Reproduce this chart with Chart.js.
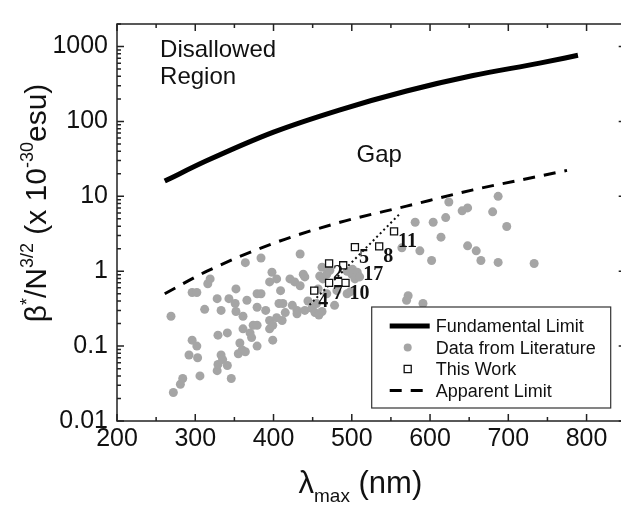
<!DOCTYPE html>
<html>
<head>
<meta charset="utf-8">
<script src="https://cdn.jsdelivr.net/npm/chart.js@4.4.1/dist/chart.umd.min.js"></script>
<style>
  html, body { margin: 0; padding: 0; background: #fff; overflow: hidden; }
  #wrap { width: 632px; height: 505px; }
</style>
</head>
<body>
<div id="wrap"><canvas id="nloChart" width="632" height="505"></canvas></div>
<script>
// Fundamental limit (solid) and apparent limit (dashed)
const fundX = [261, 315, 400, 485, 570, 655, 740, 789];
const fundY = [16, 30, 72, 143, 255, 410, 600, 764];
const apparentX = [261, 315, 400, 485, 570, 655, 740, 775];
const apparentY = [0.50, 1.0, 2.36, 4.5, 7.4, 12.2, 18.6, 22.2];

// dotted trend through "This Work"
const trendX = [446, 561];
const trendY = [0.355, 5.8];

// This Work (open squares) and their compound numbers
const workIds = ['4', '7', '10', '2', '17', '5', '8', '11'];
const workX = [452, 471, 492, 471, 489, 504, 535, 554];
const workY = [0.55, 0.70, 0.70, 1.27, 1.2, 2.1, 2.15, 3.4];

// Data from literature (grey dots)
const litX = [269, 272, 281, 284, 292, 296, 296, 302, 302, 303,
              306, 312, 316, 319, 328, 328, 329, 329, 333, 333,
              335, 341, 341, 343, 346, 351, 352, 352, 355, 357,
              360, 361, 361, 364, 364, 366, 370, 372, 374, 379,
              379, 379, 379, 384, 384, 390, 395, 395, 395, 398,
              399, 399, 404, 404, 407, 409, 411, 412, 415, 421,
              424, 427, 430, 430, 434, 434, 438, 440, 440, 444,
              449, 453, 455, 457, 458, 459, 462, 462, 463, 468,
              468, 472, 478, 481, 494, 494, 498, 500, 501, 504,
              507, 510, 564, 570, 572, 581, 587, 591, 602, 604,
              614, 620, 624, 641, 648, 648, 659, 665, 680, 687,
              687, 698, 733];
const litY = [0.25, 0.024, 0.031, 0.037, 0.076, 0.12, 0.52, 0.52, 0.10, 0.070,
              0.040, 0.31, 0.68, 0.79, 0.43, 0.047, 0.14, 0.057, 0.30, 0.076,
              0.066, 0.15, 0.055, 0.43, 0.037, 0.37, 0.58, 0.29, 0.079, 0.11,
              0.089, 0.17, 0.25, 1.3, 0.084, 0.41, 0.15, 0.13, 0.19, 0.50,
              0.33, 0.19, 0.10, 0.50, 1.5, 0.30, 0.72, 0.22, 0.17, 0.97,
              0.19, 0.12, 0.79, 0.24, 0.37, 0.55, 0.22, 0.37, 0.28, 0.79,
              0.35, 0.72, 0.30, 0.27, 1.7, 0.64, 0.91, 0.84, 0.30, 0.40,
              0.32, 0.28, 0.37, 0.58, 0.26, 0.86, 1.13, 0.29, 0.79, 0.91,
              0.50, 1.03, 0.35, 0.55, 1.0, 0.50, 0.53, 0.91, 1.06, 0.79,
              0.97, 0.84, 2.05, 0.41, 0.47, 4.5, 1.87, 0.37, 1.39, 4.5,
              2.85, 5.2, 8.4, 6.4, 7.0, 2.18, 1.87, 1.39, 6.2, 10,
              1.31, 3.95, 1.27];

// axis ranges / ticks, legend order
const xMin = 200, xMax = 850, xStep = 50;
const yMin = 0.01, yMax = 2000;
const legendOrder = ['Fundamental Limit', 'Data from Literature', 'This Work', 'Apparent Limit'];

const FONT = 'Liberation Sans, Arial, Helvetica, sans-serif';
const toPts = (xs, ys) => xs.map((x, i) => ({ x: x, y: ys[i] }));

function isDecade(v) {
  const l = Math.log10(v);
  return Math.abs(l - Math.round(l)) < 1e-6;
}

// text with super/subscripts; parts = [[text, 'n'|'sup'|'sub'], ...]
function richWidth(ctx, parts, size, small) {
  let w = 0;
  parts.forEach(p => {
    ctx.font = (p[1] === 'n' ? size : small) + 'px ' + FONT;
    w += ctx.measureText(p[0]).width;
  });
  return w;
}
function drawRich(ctx, parts, x, y, size, small) {
  parts.forEach(p => {
    ctx.font = (p[1] === 'n' ? size : small) + 'px ' + FONT;
    let dy = 0;
    if (p[1] === 'sup') dy = -size * 0.42;
    if (p[1] === 'sub') dy = size * 0.3;
    ctx.fillText(p[0], x, y + dy);
    x += ctx.measureText(p[0]).width;
  });
}

const framePlugin = {
  id: 'frame',
  afterDraw(chart) {
    const { ctx, chartArea: a, scales } = chart;
    const xs = scales.x, ys = scales.y;
    ctx.save();
    ctx.strokeStyle = '#222';
    ctx.lineWidth = 1.5;
    ctx.strokeRect(a.left, a.top, a.right - a.left, a.bottom - a.top);

    // x ticks, inward on bottom and top
    ctx.beginPath();
    for (let v = xMin; v <= xMax; v += xStep) {
      const px = xs.getPixelForValue(v);
      const len = v % 100 === 0 ? 7 : 4;
      ctx.moveTo(px, a.bottom); ctx.lineTo(px, a.bottom - len);
      ctx.moveTo(px, a.top); ctx.lineTo(px, a.top + len);
    }
    // y ticks (log minor), inward on left and right
    for (let e = -2; e <= 3; e++) {
      for (let m = 1; m <= 9; m++) {
        const v = m * Math.pow(10, e);
        if (v < yMin || v > yMax) continue;
        const py = ys.getPixelForValue(v);
        const len = m === 1 ? 7 : 4;
        ctx.moveTo(a.left, py); ctx.lineTo(a.left + len, py);
        ctx.moveTo(a.right, py); ctx.lineTo(a.right - len, py);
      }
    }
    ctx.stroke();

    // axis titles
    ctx.fillStyle = '#111';
    ctx.textBaseline = 'alphabetic';
    ctx.textAlign = 'left';
    const yParts = [['\u03b2', 'n'], ['*', 'sup'], ['/N', 'n'], ['3/2', 'sup'],
                    [' (x 10', 'n'], ['-30', 'sup'], ['esu)', 'n']];
    const yw = richWidth(ctx, yParts, 30, 18);
    ctx.save();
    ctx.translate(46, 203);
    ctx.rotate(-Math.PI / 2);
    drawRich(ctx, yParts, -yw / 2, 0, 30, 18);
    ctx.restore();

    const xParts = [['\u03bb', 'n'], ['max', 'sub'], [' (nm)', 'n']];
    const xw = richWidth(ctx, xParts, 31, 19);
    drawRich(ctx, xParts, (a.left + a.right) / 2 - 11 - xw / 2, 493, 31, 19);
    ctx.restore();
  }
};

// number labels next to the squares, region texts, legend
const notesPlugin = {
  id: 'notes',
  afterDatasetsDraw(chart) {
    const { ctx, chartArea: a, scales } = chart;
    const xs = scales.x, ys = scales.y;
    ctx.save();
    ctx.fillStyle = '#111';
    ctx.textAlign = 'left';
    ctx.textBaseline = 'alphabetic';
    ctx.font = 'bold 20px Liberation Serif, Times New Roman, serif';
    workIds.forEach((id, i) => {
      const px = xs.getPixelForValue(workX[i]);
      const py = ys.getPixelForValue(workY[i]);
      const dx = id === '17' ? 20 : 4;
      const dy = id === '17' ? 15 : 16;
      ctx.fillText(id, px + dx, py + dy);
    });

    ctx.font = '24px ' + FONT;
    ctx.fillText('Disallowed', xs.getPixelForValue(255), ys.getPixelForValue(720));
    ctx.fillText('Region', xs.getPixelForValue(255), ys.getPixelForValue(312));
    ctx.fillText('Gap', xs.getPixelForValue(506), ys.getPixelForValue(28.5));

    // legend box
    const bw = 239, bh = 101;
    const bx = a.right - 15 - bw, by = a.bottom - 13 - bh;
    ctx.fillStyle = '#fff';
    ctx.fillRect(bx, by, bw, bh);
    ctx.strokeStyle = '#333';
    ctx.lineWidth = 1.2;
    ctx.strokeRect(bx, by, bw, bh);

    legendOrder.forEach((name, i) => {
      const d = chart.data.datasets.find(ds => ds.label === name);
      const cy = by + 19 + i * 21.5;
      const sx = bx + 18;
      ctx.save();
      if (d.showLine) {
        ctx.strokeStyle = d.borderColor;
        ctx.lineWidth = d.borderWidth;
        ctx.setLineDash(d.borderDash || []);
        ctx.beginPath();
        ctx.moveTo(sx, cy); ctx.lineTo(sx + 40, cy);
        ctx.stroke();
      } else {
        ctx.fillStyle = d.backgroundColor;
        ctx.strokeStyle = d.borderColor;
        ctx.lineWidth = d.borderWidth;
        ctx.beginPath();
        if (d.pointStyle === 'rect') {
          const s = d.pointRadius * Math.SQRT1_2;
          ctx.rect(sx + 18 - s, cy - s, 2 * s, 2 * s);
          ctx.fill(); ctx.stroke();
        } else {
          ctx.arc(sx + 18, cy, d.pointRadius - 0.5, 0, Math.PI * 2);
          ctx.fill();
        }
      }
      ctx.restore();
      ctx.fillStyle = '#111';
      ctx.font = '18px ' + FONT;
      ctx.fillText(d.label, sx + 46, cy + 6);
    });
    ctx.restore();
  }
};

new Chart(document.getElementById('nloChart'), {
  type: 'scatter',
  data: {
    datasets: [
      {
        label: 'This Work', order: 0,
        data: toPts(workX, workY),
        pointStyle: 'rect', pointRadius: 5, borderWidth: 1.3,
        borderColor: '#111', backgroundColor: '#fff'
      },
      {
        label: 'trend', order: 1, type: 'line', showLine: true,
        data: toPts(trendX, trendY),
        borderColor: '#111', borderWidth: 2, borderDash: [2, 3], pointRadius: 0
      },
      {
        label: 'Data from Literature', order: 2,
        data: toPts(litX, litY),
        pointStyle: 'circle', pointRadius: 4.5, borderWidth: 0,
        borderColor: '#a5a5a5', backgroundColor: '#a5a5a5'
      },
      {
        label: 'Fundamental Limit', order: 3, type: 'line', showLine: true,
        data: toPts(fundX, fundY),
        borderColor: '#000', borderWidth: 5, pointRadius: 0,
        cubicInterpolationMode: 'monotone', borderCapStyle: 'butt'
      },
      {
        label: 'Apparent Limit', order: 4, type: 'line', showLine: true,
        data: toPts(apparentX, apparentY),
        borderColor: '#000', borderWidth: 3, borderDash: [12, 9], pointRadius: 0,
        cubicInterpolationMode: 'monotone'
      }
    ]
  },
  options: {
    responsive: false,
    animation: false,
    layout: { padding: { top: 13, right: 6, left: 0, bottom: 0 } },
    plugins: { legend: { display: false }, tooltip: { enabled: false } },
    scales: {
      x: {
        type: 'linear', min: xMin, max: xMax,
        grid: { display: false, drawTicks: false },
        border: { display: false },
        ticks: {
          stepSize: xStep, autoSkip: false, maxRotation: 0, padding: 3,
          color: '#111', font: { family: FONT, size: 25 },
          callback: v => (v % 100 === 0 && v < xMax ? v : '')
        },
        afterFit: s => { s.height = 84; }
      },
      y: {
        type: 'logarithmic', min: yMin, max: yMax,
        grid: { display: false, drawTicks: false },
        border: { display: false },
        ticks: {
          autoSkip: false, padding: 9,
          color: '#111', font: { family: FONT, size: 25 },
          callback: v => {
            if (!isDecade(v)) return '';
            const e = Math.round(Math.log10(v));
            return e < 0 ? Math.pow(10, e).toFixed(-e) : String(Math.pow(10, e));
          }
        },
        afterFit: s => { s.width = 117; }
      }
    }
  },
  plugins: [framePlugin, notesPlugin]
});
</script>
</body>
</html>
